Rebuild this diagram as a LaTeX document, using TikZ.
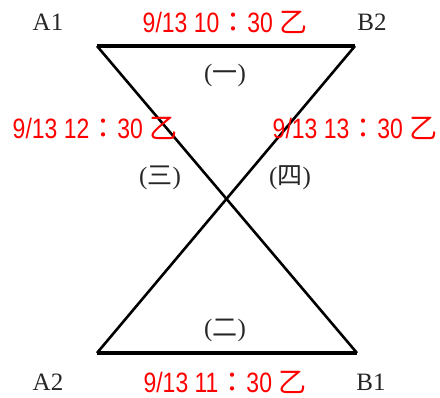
\documentclass[tikz,border=0pt]{standalone}
\usepackage{fontspec}
\setmainfont{Liberation Serif}
\newfontfamily\redsans{Liberation Sans}[FakeStretch=0.82]
\newfontfamily\cjk{Noto Sans CJK TC}
\newcommand{\stamp}[1]{{\redsans 9/13 #1{\cjk ：}30 {\cjk 乙}}}
\newcommand{\seg}[1]{({\cjk #1})}

\begin{document}
\begin{tikzpicture}[x=1pt,y=-1pt,
  stamp/.style={text=red,inner sep=0pt,font=\fontsize{28}{32}\selectfont},
  tag/.style={inner sep=0pt,text=black!85,font=\fontsize{25}{29}\selectfont}]
\useasboundingbox (0,0) rectangle (440,398);
% corners
\coordinate (tl) at (97,46);
\coordinate (tr) at (355,46);
\coordinate (bl) at (97,353);
\coordinate (br) at (357,353);
\draw[line width=3.2pt] (tl) -- (tr);
\draw[line width=3.2pt] (bl) -- (br);
\draw[line width=2.6pt] (tl) -- (br);
\draw[line width=2.6pt] (tr) -- (bl);
% corner names
\foreach \nm/\x/\y/\txt in {a1/48/22/A1,b2/372/22/B2,a2/48/382/A2,b1/371/382/B1}{
\node[tag] (\nm) at (\x,\y) {\txt};}
% times
\node[stamp] (top) at (225,22) {\stamp{10}};
\node[stamp] (left) at (95,128) {\stamp{12}};
\node[stamp] (right) at (355,128) {\stamp{13}};
\node[stamp] (bottom) at (225,382) {\stamp{11}};
% sections
\node[tag] (s1) at (225,75) {\seg{一}};
\node[tag] (s3) at (160,178) {\seg{三}};
\node[tag] (s4) at (290,178) {\seg{四}};
\node[tag] (s2) at (225,330) {\seg{二}};
\end{tikzpicture}
\end{document}
